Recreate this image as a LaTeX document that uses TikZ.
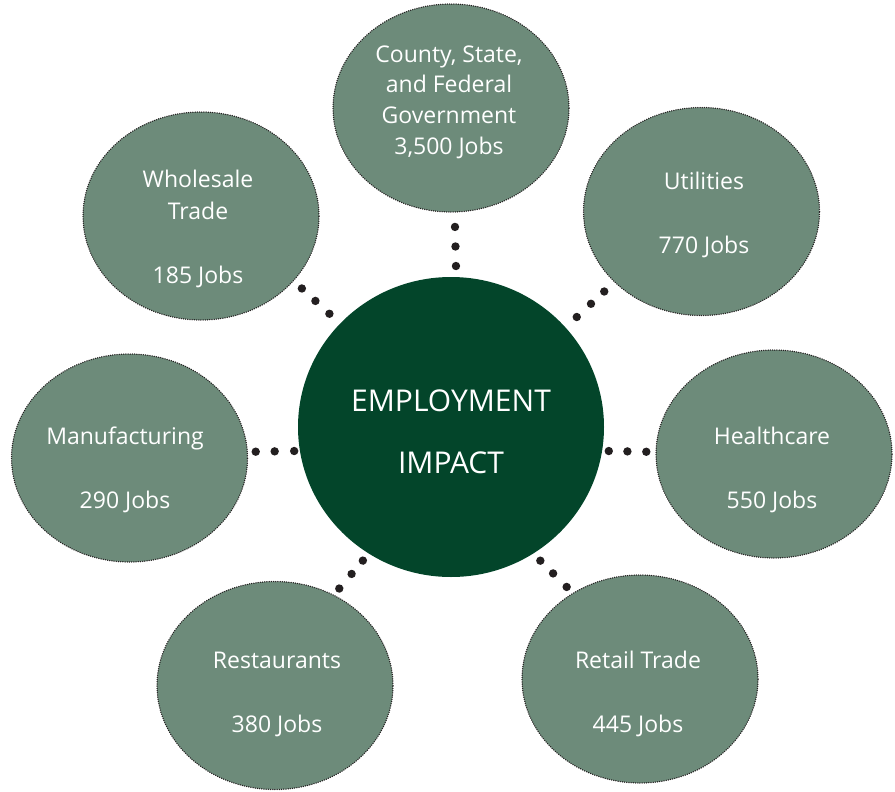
\documentclass[tikz,border=0pt]{standalone}
\usepackage{fontspec}
\setmainfont{Open Sans}
\usetikzlibrary{shapes.geometric,decorations.markings}

\definecolor{sectorfill}{RGB}{109,139,122}
\definecolor{hubgreen}{RGB}{3,69,42}
\definecolor{dotgray}{RGB}{35,31,32}

\tikzset{
  sector/.style={ellipse, fill=sectorfill, draw=dotgray, line width=1.5pt,
    line cap=round, dash pattern=on 0pt off 2.2pt,
    minimum width=236pt, minimum height=208pt, inner sep=0pt, outer sep=0pt},
  hub/.style={ellipse, fill=hubgreen, minimum width=306pt, minimum height=300pt,
    inner sep=0pt, outer sep=0pt},
  sectortext/.style={text=white, align=center, inner sep=0pt,
    font=\fontsize{23}{32}\selectfont},
  hubtext/.style={text=white, align=center, inner sep=0pt,
    font=\fontsize{30}{62}\selectfont},
  % three round dots placed along a link
  dotlink/.style n args={3}{decorate, decoration={markings,
    mark=at position #1 with {\fill[dotgray] (0,0) circle (4.2pt);},
    mark=at position #2 with {\fill[dotgray] (0,0) circle (4.2pt);},
    mark=at position #3 with {\fill[dotgray] (0,0) circle (4.2pt);}}},
}

\begin{document}
\begin{tikzpicture}[x=1pt, y=-1pt]
  \useasboundingbox (0,0) rectangle (895,792);

  % central hub
  \node[hub] (hub) at (451,427) {};

  % sector ellipses
  \node[sector] (county)        at (451,108)   {};
  \node[sector] (wholesale)     at (201,216)   {};
  \node[sector] (utilities)     at (701.5,211.5) {};
  \node[sector] (manufacturing) at (129.5,458) {};
  \node[sector] (healthcare)    at (774,454)   {};
  \node[sector] (restaurants)   at (275,685.5) {};
  \node[sector] (retail)        at (640,679)   {};

  % dotted links from the hub to each sector
  \path[dotlink={.17}{.47}{.77}]  (hub.88)    -- (county.272);
  \path[dotlink={.23}{.53}{.82}]  (hub.137)   -- (wholesale.325);
  \path[dotlink={.23}{.52}{.79}]  (hub.41)    -- (utilities.219);
  \path[dotlink={.11}{.48}{.84}]  (hub.189)   -- (manufacturing.3);
  \path[dotlink={.125}{.47}{.82}] (hub.351)   -- (healthcare.179);
  \path[dotlink={.17}{.49}{.84}]  (hub.237.5) -- (restaurants.57);
  \path[dotlink={.18}{.50}{.84}]  (hub.303.6) -- (retail.128.4);

  % labels
  \node[hubtext] (hublabel) at (451,432) {EMPLOYMENT\\IMPACT};
  \node[sectortext, font=\fontsize{23}{30.7}\selectfont] (countylabel) at (449,102)
    {County, State,\\and Federal\\Government\\3,500 Jobs};
  \node[sectortext] (wholesalelabel) at (198,229) {Wholesale\\Trade\\[32pt]185 Jobs};
  \node[sectortext] (utilitieslabel) at (704,214.5) {Utilities\\[32pt]770 Jobs};
  \node[sectortext] (manufacturinglabel) at (125,469.5) {Manufacturing\\[32pt]290 Jobs};
  \node[sectortext] (healthcarelabel) at (772,469.5) {Healthcare\\[32pt]550 Jobs};
  \node[sectortext] (restaurantslabel) at (277,694) {Restaurants\\[32pt]380 Jobs};
  \node[sectortext] (retaillabel) at (638,694) {Retail Trade\\[32pt]445 Jobs};
\end{tikzpicture}
\end{document}
